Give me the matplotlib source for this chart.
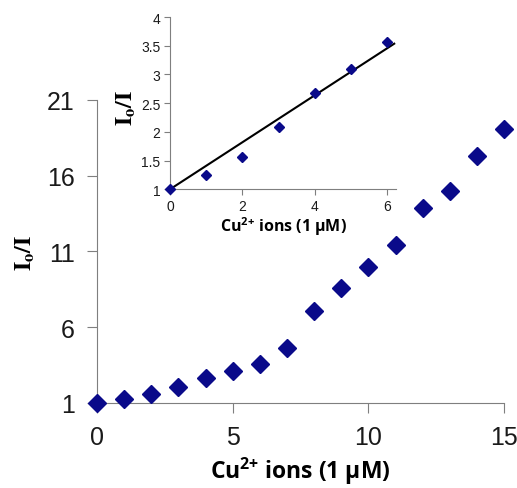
import numpy as np
import matplotlib
matplotlib.use("Agg")
import matplotlib.pyplot as plt

# data
conc = [0, 1, 2, 3, 4, 5, 6, 7, 8, 9, 10, 11, 12, 13, 14, 15]
ratio = [1.0, 1.25, 1.57, 2.08, 2.67, 3.1, 3.57, 4.6, 7.1, 8.6, 10.0, 11.4, 13.9, 15.0, 17.3, 19.1]
inset_conc = conc[:7]
inset_ratio = ratio[:7]
main_yticks = [1, 6, 11, 16, 21]
main_xticks = [0, 5, 10, 15]
inset_yticks = [1, 1.5, 2, 2.5, 3, 3.5, 4]
inset_xticks = [0, 2, 4, 6]

plt.rcParams['mathtext.fontset'] = 'custom'
plt.rcParams['mathtext.rm'] = 'Open Sans:bold'
plt.rcParams['mathtext.bf'] = 'Open Sans:bold'

tick_font = ['Liberation Sans', 'DejaVu Sans']
navy = '#0a0a8a'
spine_col = '#7f7f7f'
text_col = '#1a1a1a'
xlab = r'Cu$^{2{+}}$ ions (1 μM)'

fig = plt.figure(figsize=(5.17, 4.89), dpi=100)

# main plot
ax = fig.add_axes([0.1876, 0.174, 0.7874, 0.6195])
ax.plot(conc, ratio, linestyle='none', marker='D', markersize=9.5, color=navy, clip_on=False, zorder=5)
ax.set_xlim(0, 15)
ax.set_ylim(1, 21)
ax.set_xticks(main_xticks)
ax.set_yticks(main_yticks)
for s in ['top', 'right']:
    ax.spines[s].set_visible(False)
for s in ['left', 'bottom']:
    ax.spines[s].set_color(spine_col)
ax.tick_params(direction='out', length=7, color=spine_col, labelcolor=text_col, labelsize=18, pad=9)
for lab in ax.get_xticklabels() + ax.get_yticklabels():
    lab.set_family(tick_font)
ax.set_xlabel(xlab, family='Open Sans', fontweight='bold', fontsize=16.5, labelpad=4)
ax.set_ylabel(r'$\mathbf{I_o/I}$', math_fontfamily='stix', fontsize=17)
ax.yaxis.set_label_coords(-0.148, 0.5)

# inset
ins = fig.add_axes([0.329, 0.611, 0.437, 0.352])
ins.plot(inset_conc, inset_ratio, linestyle='none', marker='D', markersize=5, color=navy, clip_on=False, zorder=5)
# least squares line forced through (0, 1)
xs = np.array(inset_conc, dtype=float)
ys = np.array(inset_ratio)
slope = np.sum(xs * (ys - 1)) / np.sum(xs ** 2)
xl = np.array([0, 6.2])
ins.plot(xl, 1 + slope * xl, color='black', linewidth=1.5)
ins.set_xlim(0, 6.25)
ins.set_ylim(1, 4)
ins.set_xticks(inset_xticks)
ins.set_yticks(inset_yticks)
ins.set_yticklabels(['1', '1.5', '2', '2.5', '3', '3.5', '4'])
for s in ['top', 'right']:
    ins.spines[s].set_visible(False)
for s in ['left', 'bottom']:
    ins.spines[s].set_color(spine_col)
ins.tick_params(direction='out', length=4, color=spine_col, labelcolor=text_col, labelsize=10, pad=3)
for lab in ins.get_xticklabels() + ins.get_yticklabels():
    lab.set_family(tick_font)
ins.set_xlabel(xlab, family='Open Sans', fontweight='bold', fontsize=11.5, labelpad=1)
ins.set_ylabel(r'$\mathbf{I_o/I}$', math_fontfamily='stix', fontsize=17)
ins.yaxis.set_label_coords(-0.14, 0.48)

fig.savefig('out.png', dpi=100)
